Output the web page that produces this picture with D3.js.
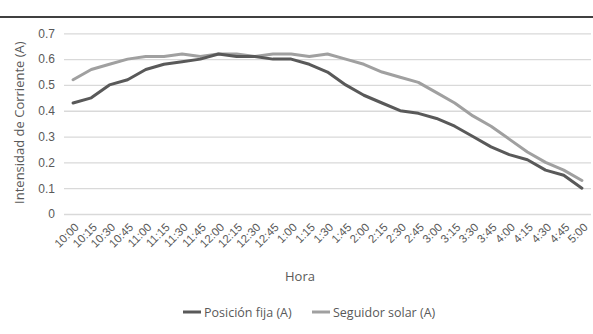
<!DOCTYPE html>
<html>
<head>
<meta charset="utf-8">
<script src="https://cdn.jsdelivr.net/npm/d3@7"></script>
<style>
  html, body { margin: 0; padding: 0; background: #fff; }
  svg { display: block; font-family: "Open Sans", "Noto Sans", sans-serif; }
</style>
</head>
<body>
<svg id="chart" width="593" height="334"></svg>
<script>
// Hourly readings, 10:00 to 5:00 every 15 minutes
const horas = ["10:00","10:15","10:30","10:45","11:00","11:15","11:30","11:45",
  "12:00","12:15","12:30","12:45","1:00","1:15","1:30","1:45","2:00","2:15",
  "2:30","2:45","3:00","3:15","3:30","3:45","4:00","4:15","4:30","4:45","5:00"];
const posicionFija = [0.43,0.45,0.50,0.52,0.56,0.58,0.59,0.60,0.62,0.61,0.61,0.60,
  0.60,0.58,0.55,0.50,0.46,0.43,0.40,0.39,0.37,0.34,0.30,0.26,0.23,0.21,0.17,0.15,0.10];
const seguidorSolar = [0.52,0.56,0.58,0.60,0.61,0.61,0.62,0.61,0.62,0.62,0.61,0.62,
  0.62,0.61,0.62,0.60,0.58,0.55,0.53,0.51,0.47,0.43,0.38,0.34,0.29,0.24,0.20,0.17,0.13];
const yTicks = [0, 0.1, 0.2, 0.3, 0.4, 0.5, 0.6, 0.7];
const seriesNames = ["Posición fija (A)", "Seguidor solar (A)"];
const seriesColors = ["#595959", "#a0a0a0"];

const svg = d3.select("#chart");
const plotLeft = 64, plotRight = 591, plotTop = 33.3, plotBottom = 214;

const x = d3.scalePoint().domain(horas).range([plotLeft, plotRight]).padding(0.5);
const y = d3.scaleLinear().domain([0, 0.7]).range([plotBottom, plotTop]);

// top rule
svg.append("line").attr("x1", 0).attr("x2", 593).attr("y1", 17).attr("y2", 17)
  .attr("stroke", "#000").attr("stroke-width", 1.5);

// gridlines + y labels
const yAxis = d3.axisLeft(y).tickValues(yTicks)
  .tickSize(-(plotRight - plotLeft)).tickPadding(9)
  .tickFormat(d => d === 0 ? "0" : d3.format(".1f")(d));
const gy = svg.append("g").attr("transform", `translate(${plotLeft},0)`).call(yAxis);
gy.select(".domain").remove();
gy.selectAll(".tick line").attr("stroke", "#d9d9d9").attr("stroke-width", 1.3);
gy.selectAll(".tick text").attr("fill", "#595959").attr("font-size", 12);

// x labels, rotated
const xAxis = d3.axisBottom(x).tickSize(0).tickPadding(0);
const gx = svg.append("g").attr("transform", `translate(0,${plotBottom})`).call(xAxis);
gx.select(".domain").remove();
gx.selectAll(".tick text")
  .attr("fill", "#595959").attr("font-size", 11.5)
  .attr("text-anchor", "end")
  .attr("dy", 0)
  .attr("transform", "translate(6,14) rotate(-45)");

// series lines, dark series drawn last so it sits on top
const line = d3.line().x((d, i) => x(horas[i])).y(d => y(d));
[seguidorSolar, posicionFija].forEach((s, j) => {
  const k = 1 - j;
  svg.append("path").datum(s)
    .attr("fill", "none").attr("stroke", seriesColors[k])
    .attr("stroke-width", 3).attr("stroke-linejoin", "round").attr("stroke-linecap", "round")
    .attr("d", line);
});

// axis titles
svg.append("text").attr("transform", `translate(24,${(plotTop + plotBottom) / 2 - 1}) rotate(-90)`)
  .attr("text-anchor", "middle").attr("font-size", 13).attr("fill", "#595959")
  .text("Intensidad de Corriente (A)");
svg.append("text").attr("x", 300).attr("y", 281)
  .attr("text-anchor", "middle").attr("font-size", 13).attr("fill", "#595959")
  .text("Hora");

// legend
const legendPos = [183, 312];
seriesNames.forEach((n, k) => {
  const g = svg.append("g").attr("transform", `translate(${legendPos[k]},312)`);
  g.append("line").attr("x1", 0).attr("x2", 18).attr("y1", 0).attr("y2", 0)
    .attr("stroke", seriesColors[k]).attr("stroke-width", 3);
  g.append("text").attr("x", 21).attr("y", 4.5).attr("font-size", 12.5).attr("fill", "#595959").text(n);
});
</script>
</body>
</html>
